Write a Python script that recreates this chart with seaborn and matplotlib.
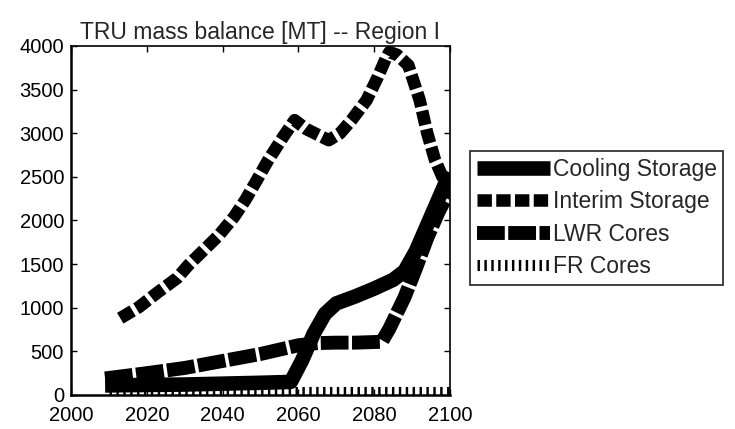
import matplotlib
matplotlib.use("Agg")
import matplotlib.pyplot as plt
import seaborn as sns
import pandas as pd

# ---- data ----
interim_years = [2013, 2018, 2023, 2028, 2031, 2035, 2039, 2043, 2046, 2049, 2052, 2056, 2059,
                 2062, 2068, 2071, 2074, 2078, 2081, 2083, 2084, 2086, 2089, 2092, 2094, 2096, 2098, 2100]
interim_vals = [880, 1010, 1180, 1340, 1490, 1660, 1830, 2040, 2235, 2460, 2690, 2960, 3150,
                3050, 2920, 3000, 3150, 3380, 3650, 3850, 3930, 3900, 3780, 3380, 3000, 2700, 2500, 2350]

cooling_years = [2009, 2020, 2030, 2040, 2050, 2058, 2061, 2064, 2067, 2070, 2075, 2080, 2085,
                 2088, 2091, 2094, 2097, 2100]
cooling_vals = [110, 115, 120, 130, 140, 150, 400, 700, 930, 1050, 1130, 1220, 1320,
                1420, 1650, 1950, 2250, 2550]

lwr_years = [2009, 2020, 2030, 2040, 2050, 2060, 2065, 2070, 2075, 2082, 2084, 2088, 2091,
             2094, 2097, 2100]
lwr_vals = [190, 250, 310, 390, 470, 570, 595, 600, 600, 610, 760, 1120, 1450, 1800, 2100, 2350]

fr_years = [2010, 2030, 2050, 2070, 2090, 2100]
fr_vals = [30, 30, 30, 30, 30, 30]

labels = ["Cooling Storage", "Interim Storage", "LWR Cores", "FR Cores"]
title = "TRU mass balance [MT] -- Region I"
xticks = [2000, 2020, 2040, 2060, 2080, 2100]
yticks = [0, 500, 1000, 1500, 2000, 2500, 3000, 3500, 4000]

# ---- styling ----
sns.set_style("ticks")
plt.rcParams["font.family"] = ["Liberation Sans", "DejaVu Sans"]
plt.rcParams["xtick.direction"] = "in"
plt.rcParams["ytick.direction"] = "in"

fig = plt.figure(figsize=(7.35, 4.29), dpi=100)
ax = fig.add_axes([71 / 735, 1 - 395 / 429, (450 - 71) / 735, (395 - 46) / 429])

df_c = pd.DataFrame({"year": cooling_years, "val": cooling_vals})
df_i = pd.DataFrame({"year": interim_years, "val": interim_vals})
df_l = pd.DataFrame({"year": lwr_years, "val": lwr_vals})
df_f = pd.DataFrame({"year": fr_years, "val": fr_vals})

sns.lineplot(data=df_f, x="year", y="val", ax=ax, color="black", lw=8,
             linestyle=(0, (0.22, 0.4)), dash_capstyle="butt", label=labels[3])
sns.lineplot(data=df_l, x="year", y="val", ax=ax, color="black", lw=10,
             linestyle=(0, (2.0, 0.25)), dash_capstyle="butt", label=labels[2])
sns.lineplot(data=df_c, x="year", y="val", ax=ax, color="black", lw=10.5,
             solid_capstyle="butt", label=labels[0])
sns.lineplot(data=df_i, x="year", y="val", ax=ax, color="black", lw=9,
             linestyle=(0, (1.15, 0.35)), dash_capstyle="butt", label=labels[1])

ax.set_xlim(2000, 2100)
ax.set_ylim(0, 4000)
ax.set_xticks(xticks)
ax.set_yticks(yticks)
ax.set_xlabel("")
ax.set_ylabel("")
ax.tick_params(axis="both", which="major", labelsize=14.5, length=4, width=1,
               top=True, right=True, colors="black")
ax.tick_params(axis="x", pad=8)
ax.tick_params(axis="y", pad=5)
for s in ax.spines.values():
    s.set_visible(True)
    s.set_color("black")
ax.spines["left"].set_linewidth(1.8)
ax.spines["bottom"].set_linewidth(1.8)
ax.spines["top"].set_linewidth(1.2)
ax.spines["right"].set_linewidth(1.2)

ax.set_title(title, fontsize=16.5, pad=5)

handles, labs = ax.get_legend_handles_labels()
order = [labs.index(l) for l in labels]
leg = ax.legend([handles[i] for i in order], [labs[i] for i in order],
                loc="center left", bbox_to_anchor=(470 / 735, 1 - 218 / 429),
                bbox_transform=fig.transFigure, fontsize=16.5, frameon=True,
                fancybox=False, edgecolor="black", handlelength=3.2,
                handletextpad=0.1, labelspacing=0.4, borderpad=0.3,
                borderaxespad=0)
leg.get_frame().set_linewidth(1.3)

fig.savefig("out.png", dpi=100)
